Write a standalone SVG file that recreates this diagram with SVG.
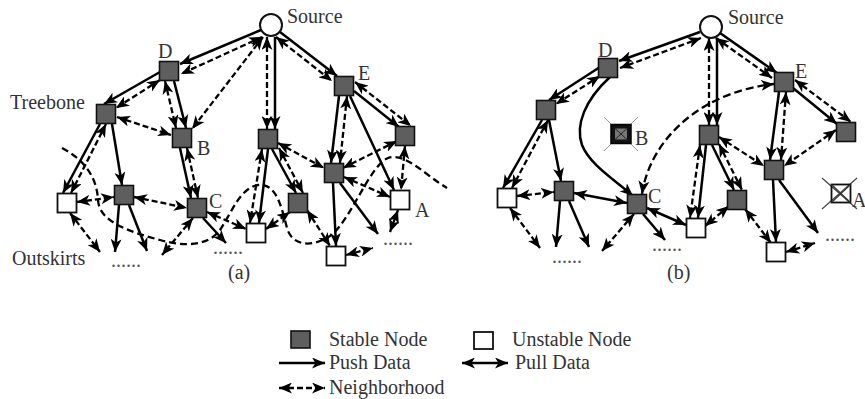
<svg xmlns="http://www.w3.org/2000/svg" width="865" height="399" viewBox="0 0 865 399">
<style>
text{font-family:"Liberation Serif","Times New Roman",serif;font-size:20px;fill:#333}
.dots{fill:#555}
.s{stroke:#000;stroke-width:2.5;fill:none;marker-end:url(#ah)}
.p{stroke:#000;stroke-width:2.5;fill:none;marker-start:url(#ah);marker-end:url(#ah)}
.d{stroke:#000;stroke-width:2.3;stroke-dasharray:6 3;fill:none;marker-start:url(#ah);marker-end:url(#ah)}
.dl{stroke:#000;stroke-width:2.3;stroke-dasharray:8 4;fill:none;marker-start:url(#ah);marker-end:url(#ah)}
.b{stroke:#000;stroke-width:2.3;stroke-dasharray:7 4;fill:none}
.stable{fill:#5e5e5e;stroke:#111;stroke-width:1.6}
.unstable{fill:#fff;stroke:#111;stroke-width:1.8}
.src{fill:#fff;stroke:#111;stroke-width:2}
</style>
<defs>
<marker id="ah" viewBox="0 0 13 11" refX="13" refY="5.5" markerWidth="13" markerHeight="11" markerUnits="userSpaceOnUse" orient="auto-start-reverse">
<path d="M0,0 L13,5.5 L0,11 L3.5,5.5 Z" fill="#000"/>
</marker>
</defs>
<rect width="865" height="399" fill="#fff"/>

<g id="connectors">
<!-- panel (a) -->
<line class="s" x1="261" y1="30" x2="180" y2="64"/>
<line class="d" x1="262" y1="37" x2="181" y2="74"/>
<line class="d" x1="263" y1="37" x2="192" y2="129"/>
<line class="s" x1="275" y1="37" x2="275" y2="129"/>
<line class="d" x1="267" y1="37" x2="267" y2="129"/>
<line class="s" x1="280" y1="32" x2="337" y2="76"/>
<line class="d" x1="276" y1="37" x2="332" y2="81"/>
<line class="s" x1="160" y1="72" x2="104" y2="104"/>
<line class="d" x1="160" y1="80" x2="116" y2="108"/>
<line class="s" x1="174" y1="81" x2="186" y2="128"/>
<line class="d" x1="165" y1="81" x2="176" y2="128"/>
<line class="d" x1="117" y1="117" x2="171" y2="135"/>
<line class="s" x1="100" y1="124" x2="63" y2="193"/>
<line class="d" x1="106" y1="124" x2="71" y2="193"/>
<line class="s" x1="112" y1="124" x2="122" y2="185"/>
<line class="s" x1="119" y1="205" x2="115" y2="252"/>
<line class="s" x1="129" y1="205" x2="147" y2="251"/>
<line class="d" x1="77" y1="202" x2="114" y2="197"/>
<line class="d" x1="134" y1="197" x2="187" y2="208"/>
<line class="d" x1="70" y1="213" x2="100" y2="252"/>
<line class="d" x1="193" y1="218" x2="162" y2="255"/>
<line class="s" x1="180" y1="148" x2="191" y2="198"/>
<line class="d" x1="187" y1="148" x2="198" y2="198"/>
<line class="s" x1="203" y1="218" x2="226" y2="243"/>
<line class="d" x1="207" y1="212" x2="246" y2="229"/>
<line class="s" x1="268" y1="149" x2="259" y2="223"/>
<line class="d" x1="262" y1="149" x2="250" y2="223"/>
<line class="s" x1="272" y1="149" x2="296" y2="193"/>
<line class="d" x1="279" y1="148" x2="303" y2="193"/>
<line class="d" x1="278" y1="143" x2="324" y2="168"/>
<line class="s" x1="339" y1="96" x2="331" y2="163"/>
<line class="d" x1="347" y1="96" x2="340" y2="163"/>
<line class="s" x1="354" y1="91" x2="399" y2="127"/>
<line class="d" x1="355" y1="82" x2="411" y2="126"/>
<line class="s" x1="350" y1="96" x2="394" y2="190"/>
<line class="d" x1="343" y1="168" x2="397" y2="141"/>
<line class="d" x1="405" y1="146" x2="401" y2="190"/>
<line class="d" x1="344" y1="177" x2="390" y2="197"/>
<line class="s" x1="333" y1="183" x2="336" y2="246"/>
<line class="s" x1="340" y1="183" x2="378" y2="234"/>
<line class="d" x1="398" y1="210" x2="390" y2="232"/>
<line class="d" x1="346" y1="255" x2="373" y2="248"/>
<line class="d" x1="266" y1="229" x2="290" y2="212"/>
<line class="d" x1="307" y1="210" x2="330" y2="246"/>
<path class="b" d="M62,148 C85,160 97,178 98,200 C99,222 130,232 160,240 C185,247 208,246 220,230 C232,212 240,188 258,185 C276,183 281,205 287,228 C292,246 312,248 330,236 C350,222 370,165 388,158 C405,152 425,175 447,188"/>

<!-- panel (b) -->
<line class="s" x1="700" y1="32" x2="619" y2="61"/>
<line class="d" x1="701" y1="38" x2="620" y2="68"/>
<line class="s" x1="717" y1="38" x2="717" y2="125"/>
<line class="d" x1="709" y1="38" x2="709" y2="125"/>
<line class="s" x1="720" y1="33" x2="777" y2="73"/>
<line class="d" x1="716" y1="38" x2="772" y2="78"/>
<line class="s" x1="600" y1="67" x2="549" y2="100"/>
<line class="d" x1="600" y1="76" x2="556" y2="104"/>
<path class="s" d="M610,77 C585,100 575,125 582,145 C590,165 615,180 633,196"/>
<line class="s" x1="542" y1="120" x2="503" y2="188"/>
<line class="d" x1="548" y1="120" x2="512" y2="188"/>
<line class="s" x1="549" y1="120" x2="561" y2="181"/>
<line class="d" x1="517" y1="196" x2="554" y2="192"/>
<line class="p" x1="574" y1="193" x2="627" y2="203"/>
<line class="s" x1="560" y1="201" x2="556" y2="247"/>
<line class="s" x1="569" y1="201" x2="589" y2="247"/>
<line class="d" x1="510" y1="208" x2="540" y2="248"/>
<line class="d" x1="634" y1="214" x2="602" y2="251"/>
<line class="s" x1="643" y1="214" x2="665" y2="240"/>
<line class="p" x1="647" y1="208" x2="686" y2="225"/>
<path class="dl" d="M642,194 C650,140 700,92 774,84"/>
<line class="s" x1="706" y1="145" x2="698" y2="218"/>
<line class="d" x1="700" y1="145" x2="690" y2="218"/>
<line class="s" x1="712" y1="145" x2="734" y2="190"/>
<line class="d" x1="719" y1="144" x2="742" y2="190"/>
<line class="d" x1="719" y1="137" x2="764" y2="166"/>
<line class="s" x1="779" y1="92" x2="770" y2="160"/>
<line class="d" x1="786" y1="92" x2="781" y2="160"/>
<line class="s" x1="793" y1="88" x2="837" y2="124"/>
<line class="d" x1="795" y1="80" x2="851" y2="122"/>
<line class="d" x1="836" y1="130" x2="784" y2="166"/>
<line class="d" x1="729" y1="206" x2="705" y2="226"/>
<line class="d" x1="745" y1="209" x2="771" y2="243"/>
<line class="s" x1="773" y1="180" x2="776" y2="242"/>
<line class="s" x1="779" y1="180" x2="818" y2="233"/>
<line class="d" x1="786" y1="252" x2="815" y2="243"/>
</g>

<!-- panel (a) nodes -->
<g id="a-source"><circle class="src" cx="271" cy="25" r="11"/><text x="287" y="23">Source</text></g>
<g id="a-D"><rect class="stable" x="159.5" y="61.5" width="19" height="19"/><text x="158" y="58">D</text></g>
<g id="a-treebone"><rect class="stable" x="96.5" y="104.5" width="19" height="19"/><text x="10" y="109">Treebone</text></g>
<g id="a-B"><rect class="stable" x="172.5" y="128.5" width="19" height="19"/><text x="197" y="155">B</text></g>
<g id="a-C"><rect class="stable" x="187.5" y="198.5" width="19" height="19"/><text x="209" y="208">C</text></g>
<g id="a-g1"><rect class="stable" x="114.5" y="185.5" width="19" height="19"/></g>
<g id="a-w1"><rect class="unstable" x="57.5" y="193.5" width="19" height="19"/></g>
<g id="a-m"><rect class="stable" x="258.5" y="129.5" width="19" height="19"/></g>
<g id="a-E"><rect class="stable" x="334.5" y="76.5" width="19" height="19"/><text x="358" y="80">E</text></g>
<g id="a-r"><rect class="stable" x="395.5" y="126.5" width="19" height="19"/></g>
<g id="a-u"><rect class="stable" x="324.5" y="163.5" width="19" height="19"/></g>
<g id="a-g2"><rect class="stable" x="288.5" y="193.5" width="19" height="19"/></g>
<g id="a-w2"><rect class="unstable" x="246.5" y="223.5" width="19" height="19"/></g>
<g id="a-A"><rect class="unstable" x="390.5" y="190.5" width="19" height="19"/><text x="415" y="217">A</text></g>
<g id="a-w3"><rect class="unstable" x="326.5" y="246.5" width="19" height="19"/></g>
<g id="a-outskirts"><text x="12" y="265">Outskirts</text></g>
<g id="a-dots1"><text class="dots" x="111" y="267">......</text></g>
<g id="a-dots2"><text class="dots" x="213" y="254">......</text></g>
<g id="a-dots3"><text class="dots" x="383" y="245">......</text></g>
<g id="a-caption"><text x="228" y="279">(a)</text></g>

<!-- panel (b) nodes -->
<g id="b-source"><circle class="src" cx="711" cy="27" r="11"/><text x="728" y="24">Source</text></g>
<g id="b-D"><rect class="stable" x="598.5" y="58.5" width="19" height="19"/><text x="598" y="57">D</text></g>
<g id="b-t"><rect class="stable" x="536.5" y="100.5" width="19" height="19"/></g>
<g id="b-B">
<line x1="604" y1="117" x2="638" y2="151" stroke="#999" stroke-width="1"/>
<line x1="604" y1="151" x2="638" y2="117" stroke="#999" stroke-width="1"/>
<rect x="611" y="124.5" width="20" height="19" fill="#111" stroke="#000" stroke-width="1.5"/>
<rect x="615" y="128.5" width="12" height="11" fill="#777"/>
<line x1="615" y1="128.5" x2="627" y2="139.5" stroke="#222" stroke-width="1"/>
<line x1="615" y1="139.5" x2="627" y2="128.5" stroke="#222" stroke-width="1"/>
<text x="635" y="145">B</text></g>
<g id="b-w1"><rect class="unstable" x="497.5" y="188.5" width="19" height="19"/></g>
<g id="b-g1"><rect class="stable" x="554.5" y="181.5" width="19" height="19"/></g>
<g id="b-C"><rect class="stable" x="627.5" y="194.5" width="19" height="19"/><text x="648" y="203">C</text></g>
<g id="b-m"><rect class="stable" x="699.5" y="125.5" width="19" height="19"/></g>
<g id="b-E"><rect class="stable" x="774.5" y="72.5" width="19" height="19"/><text x="795" y="78">E</text></g>
<g id="b-r"><rect class="stable" x="836.5" y="122.5" width="19" height="19"/></g>
<g id="b-u"><rect class="stable" x="764.5" y="160.5" width="19" height="19"/></g>
<g id="b-g2"><rect class="stable" x="727.5" y="190.5" width="19" height="19"/></g>
<g id="b-w2"><rect class="unstable" x="686.5" y="218.5" width="19" height="19"/></g>
<g id="b-w3"><rect class="unstable" x="766.5" y="242.5" width="19" height="19"/></g>
<g id="b-A">
<line x1="822" y1="178" x2="857" y2="209" stroke="#444" stroke-width="1.2"/>
<line x1="822" y1="209" x2="857" y2="178" stroke="#444" stroke-width="1.2"/>
<rect x="831.5" y="184.5" width="19" height="18" fill="none" stroke="#111" stroke-width="1.8"/>
<line x1="831.5" y1="184.5" x2="850.5" y2="202.5" stroke="#333" stroke-width="1.2"/>
<line x1="831.5" y1="202.5" x2="850.5" y2="184.5" stroke="#333" stroke-width="1.2"/>
<text x="852" y="207">A</text></g>
<g id="b-dots1"><text class="dots" x="552" y="263">......</text></g>
<g id="b-dots2"><text class="dots" x="652" y="251">......</text></g>
<g id="b-dots3"><text class="dots" x="825" y="241">......</text></g>
<g id="b-caption"><text x="667" y="279">(b)</text></g>

<g id="legend">
<rect class="stable" x="291" y="331" width="19" height="17"/>
<text x="329" y="346">Stable Node</text>
<rect class="unstable" x="474" y="332" width="19" height="17"/>
<text x="512" y="346">Unstable Node</text>
<line class="s" x1="279" y1="363" x2="325" y2="363"/>
<text x="329" y="369">Push Data</text>
<line class="p" x1="462" y1="363" x2="508" y2="363"/>
<text x="515" y="369">Pull Data</text>
<line class="d" x1="279" y1="388" x2="325" y2="388"/>
<text x="329" y="394">Neighborhood</text>
</g>
</svg>
